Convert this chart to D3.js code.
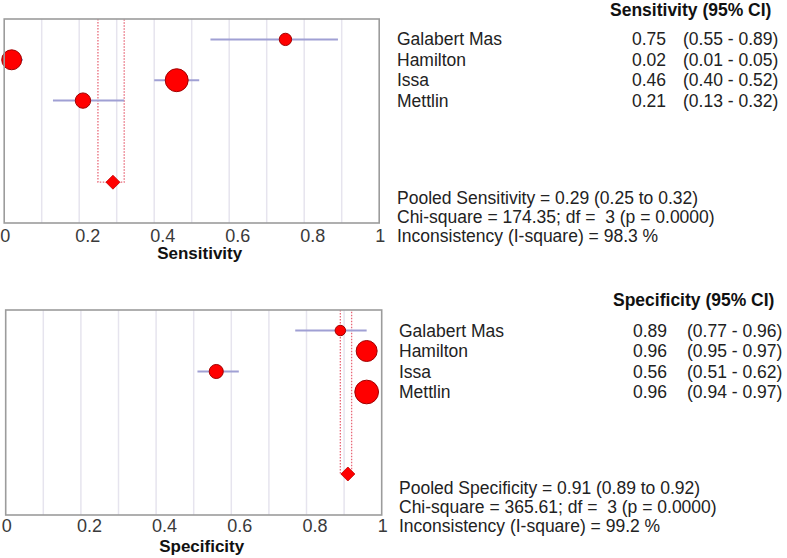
<!DOCTYPE html>
<html>
<head>
<meta charset="utf-8">
<script src="https://cdn.jsdelivr.net/npm/d3@7/dist/d3.min.js"></script>
<style>
  html, body { margin: 0; padding: 0; background: #ffffff; }
  svg { display: block; font-family: "Liberation Sans", Arial, sans-serif; }
</style>
</head>
<body>
<svg id="chart" width="787" height="558"></svg>
<script>
// ---------- DATA ----------
const studies = ["Galabert Mas", "Hamilton", "Issa", "Mettlin"];

const sensValues = [0.75, 0.02, 0.46, 0.21];
const sensLower  = [0.55, 0.01, 0.40, 0.13];
const sensUpper  = [0.89, 0.05, 0.52, 0.32];
const sensWeights = [11.6, 30.4, 40.2, 18.0];   // relative study weight (%)
const sensPooled = [0.29, 0.25, 0.32];          // estimate, lower, upper
const sensStats = ["Pooled Sensitivity = 0.29 (0.25 to 0.32)",
                   "Chi-square = 174.35; df =  3 (p = 0.0000)",
                   "Inconsistency (I-square) = 98.3 %"];

const specValues = [0.89, 0.96, 0.56, 0.96];
const specLower  = [0.77, 0.95, 0.51, 0.94];
const specUpper  = [0.96, 0.97, 0.62, 0.97];
const specWeights = [8.4, 33.6, 15.1, 42.9];
const specPooled = [0.91, 0.89, 0.92];
const specStats = ["Pooled Specificity = 0.91 (0.89 to 0.92)",
                   "Chi-square = 365.61; df =  3 (p = 0.0000)",
                   "Inconsistency (I-square) = 99.2 %"];

const tickValues = [0, 0.2, 0.4, 0.6, 0.8, 1];
const tickLabels = ["0", "0.2", "0.4", "0.6", "0.8", "1"];
const gridValues = [0.1, 0.2, 0.3, 0.4, 0.5, 0.6, 0.7, 0.8, 0.9];

// ---------- DRAW ----------
const svg = d3.select("#chart");
const fmt = d3.format(".2f");
const rScale = d3.scaleSqrt().domain([0, 100]).range([0, 18.1]);

function panel(cfg) {
  const x = d3.scaleLinear().domain([0, 1]).range([cfg.x0, cfg.x1]);
  const y = d3.scaleLinear().domain([-1, 9]).range([cfg.y0, cfg.y1]);
  const g = svg.append("g");

  // grid
  g.selectAll("line.grid").data(gridValues).join("line")
    .attr("class", "grid")
    .attr("x1", d => x(d)).attr("x2", d => x(d))
    .attr("y1", cfg.y0).attr("y2", cfg.y1)
    .attr("stroke", "#e6e4ee").attr("stroke-width", 1.5);

  // pooled dotted band
  const pe = cfg.pooled;
  const yP = y(7);
  g.append("path")
    .attr("d", `M${x(pe[1])},${cfg.y0}V${yP}H${x(pe[2])}V${cfg.y0}`)
    .attr("fill", "none").attr("stroke", "#e86878")
    .attr("stroke-width", 1.3).attr("stroke-dasharray", "1.5,1.5");

  // CI lines
  g.selectAll("line.ci").data(studies).join("line")
    .attr("class", "ci")
    .attr("x1", (d, i) => x(cfg.lower[i])).attr("x2", (d, i) => x(cfg.upper[i]))
    .attr("y1", (d, i) => y(i)).attr("y2", (d, i) => y(i))
    .attr("stroke", "#a0a0d4").attr("stroke-width", 2);

  // points
  g.selectAll("circle.pt").data(studies).join("circle")
    .attr("class", "pt")
    .attr("cx", (d, i) => x(cfg.values[i]))
    .attr("cy", (d, i) => y(i))
    .attr("r", (d, i) => rScale(cfg.weights[i]))
    .attr("fill", "#ff0000").attr("stroke", "#a00000").attr("stroke-width", 1);

  // diamond
  const dh = 7;
  const dx = x(pe[0]);
  g.append("path")
    .attr("d", `M${dx - dh},${yP}L${dx},${yP - dh}L${dx + dh},${yP}L${dx},${yP + dh}Z`)
    .attr("fill", "#ff0000").attr("stroke", "#c00000").attr("stroke-width", 0.8);

  // box
  g.append("rect")
    .attr("x", cfg.x0).attr("y", cfg.y0)
    .attr("width", cfg.x1 - cfg.x0).attr("height", cfg.y1 - cfg.y0)
    .attr("fill", "none").attr("stroke", "#9c9c9c").attr("stroke-width", 1.6);

  // axis
  const axis = d3.axisBottom(x).tickValues(tickValues)
    .tickFormat((d, i) => tickLabels[i]).tickSize(0).tickPadding(0);
  const ax = g.append("g").attr("transform", `translate(0,${cfg.y1})`).call(axis);
  ax.select(".domain").remove();
  ax.selectAll("text")
    .attr("text-anchor", "start")
    .attr("dx", -4.5)
    .attr("dy", 0)
    .attr("y", cfg.tickBase - cfg.y1)
    .attr("font-size", 18)
    .attr("font-family", "Liberation Sans, Arial, sans-serif")
    .attr("fill", "#3a3a3a");

  // axis title
  g.append("text")
    .attr("x", (cfg.x0 + cfg.x1) / 2 + 8).attr("y", cfg.titleBase)
    .attr("text-anchor", "middle").attr("font-weight", "bold")
    .attr("font-size", 17).attr("fill", "#111")
    .text(cfg.title);

  // header
  g.append("text")
    .attr("x", cfg.headerX).attr("y", cfg.headerBase)
    .attr("font-weight", "bold").attr("font-size", 17.5).attr("fill", "#111")
    .text(cfg.header);

  // study rows
  const rows = g.selectAll("g.row").data(studies).join("g").attr("class", "row");
  rows.append("text")
    .attr("x", cfg.nameX).attr("y", (d, i) => y(i) + 6)
    .attr("font-size", 17.5).attr("fill", "#222")
    .text(d => d);
  rows.append("text")
    .attr("x", cfg.valX).attr("y", (d, i) => y(i) + 6)
    .attr("text-anchor", "end")
    .attr("font-size", 17.5).attr("fill", "#222")
    .text((d, i) => fmt(cfg.values[i]));
  rows.append("text")
    .attr("x", cfg.ciX).attr("y", (d, i) => y(i) + 6)
    .attr("font-size", 17.5).attr("fill", "#222")
    .attr("xml:space", "preserve")
    .text((d, i) => `(${fmt(cfg.lower[i])} - ${fmt(cfg.upper[i])})`);

  // stats
  g.selectAll("text.stat").data(cfg.stats).join("text")
    .attr("class", "stat")
    .attr("x", cfg.nameX).attr("y", (d, i) => cfg.statBase + i * 19)
    .attr("font-size", 17.5).attr("fill", "#222")
    .attr("xml:space", "preserve")
    .text(d => d);
}

panel({
  x0: 4.2, x1: 379.2, y0: 19, y1: 223,
  values: sensValues, lower: sensLower, upper: sensUpper, weights: sensWeights,
  pooled: sensPooled, stats: sensStats,
  title: "Sensitivity", header: "Sensitivity (95% CI)",
  tickBase: 242, titleBase: 259, headerX: 610, headerBase: 16,
  nameX: 397, valX: 666, ciX: 683, statBase: 204
});

panel({
  x0: 5.7, x1: 381.7, y0: 310, y1: 515,
  values: specValues, lower: specLower, upper: specUpper, weights: specWeights,
  pooled: specPooled, stats: specStats,
  title: "Specificity", header: "Specificity (95% CI)",
  tickBase: 532, titleBase: 552, headerX: 613, headerBase: 306,
  nameX: 399, valX: 667, ciX: 687, statBase: 494
});
</script>
</body>
</html>
